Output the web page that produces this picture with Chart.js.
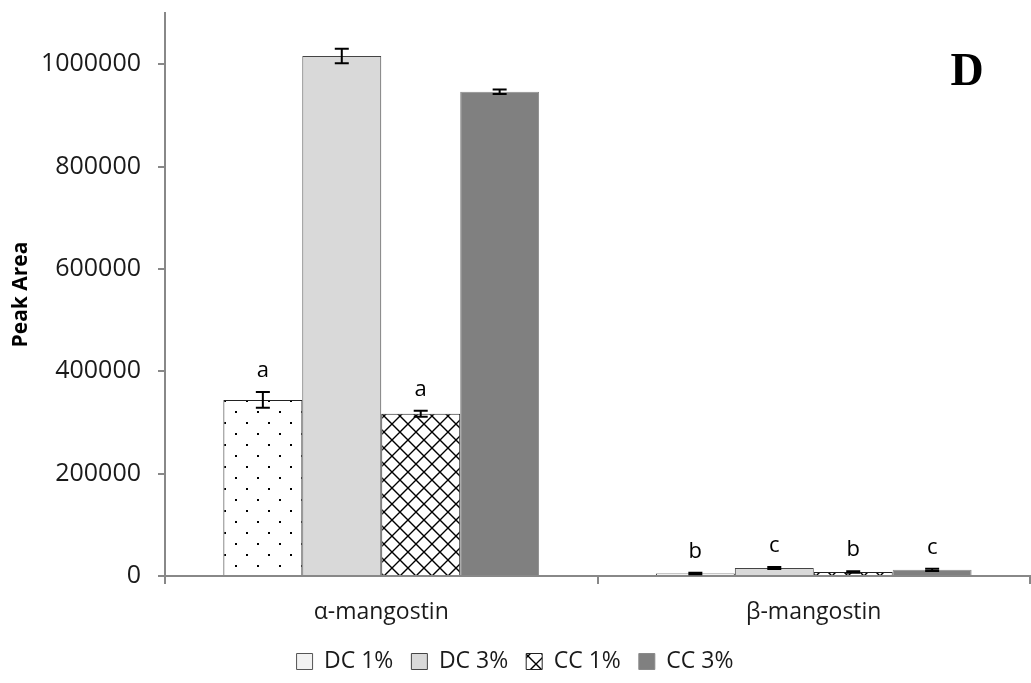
<!DOCTYPE html>
<html>
<head>
<meta charset="utf-8">
<script src="https://cdn.jsdelivr.net/npm/chart.js@4/dist/chart.umd.min.js"></script>
<style>
  html,body{margin:0;padding:0;background:#fff;}
  #wrap{width:1031px;height:683px;}
</style>
</head>
<body>
<div id="wrap"><canvas id="myChart" width="1031" height="683"></canvas></div>
<script>
// datos
const categories=['α-mangostin','β-mangostin'];
const seriesNames=['DC 1%','DC 3%','CC 1%','CC 3%'];
const dc1=[344000,5000];
const dc3=[1016000,15500];
const cc1=[317000,8000];
const cc3=[946000,12000];
const dc1Err=[15500,1500];
const dc3Err=[14000,2000];
const cc1Err=[6000,1500];
const cc3Err=[4500,2000];
// letras de significancia
const dc1Sig=['a','b'];
const dc3Sig=['','c'];
const cc1Sig=['a','b'];
const cc3Sig=['','c'];
const yTicks=[0,200000,400000,600000,800000,1000000];

// patrones
function dotPattern(){
    const c=document.createElement('canvas');
    c.width=22;c.height=22;
    const x=c.getContext('2d');
    x.fillStyle='#fff';x.fillRect(0,0,22,22);
    x.fillStyle='#000';
    x.fillRect(4,4,2,2);
    x.fillRect(15,15,2,2);
    return x.createPattern(c,'repeat');
}
function crossPattern(){
    const c=document.createElement('canvas');
    c.width=16;c.height=16;
    const x=c.getContext('2d');
    x.fillStyle='#fff';x.fillRect(0,0,16,16);
    x.strokeStyle='#000';x.lineWidth=1.4;
    x.beginPath();
    x.moveTo(-2,-2);x.lineTo(18,18);
    x.moveTo(18,-2);x.lineTo(-2,18);
    x.stroke();
    return x.createPattern(c,'repeat');
}

const FONT="'Open Sans', 'Liberation Sans', sans-serif";
Chart.defaults.font.family=FONT;
Chart.defaults.color='#1a1a1a';

const datasets=[
    {label:seriesNames[0],data:dc1,err:dc1Err,sig:dc1Sig,backgroundColor:dotPattern(),borderColor:'#222',borderWidth:1},
    {label:seriesNames[1],data:dc3,err:dc3Err,sig:dc3Sig,backgroundColor:'#d9d9d9',borderColor:'#444',borderWidth:1},
    {label:seriesNames[2],data:cc1,err:cc1Err,sig:cc1Sig,backgroundColor:crossPattern(),borderColor:'#222',borderWidth:1},
    {label:seriesNames[3],data:cc3,err:cc3Err,sig:cc3Sig,backgroundColor:'#808080',borderColor:'#8a8a8a',borderWidth:1}
];

// barras de error y letras
const errorBars={
    id:'errorBars',
    afterDatasetsDraw(chart){
        const ctx=chart.ctx;
        const y=chart.scales.y;
        ctx.save();
        chart.data.datasets.forEach((ds,i)=>{
            const meta=chart.getDatasetMeta(i);
            meta.data.forEach((bar,j)=>{
                const v=ds.data[j],e=ds.err[j];
                const top=y.getPixelForValue(v+e);
                const bot=y.getPixelForValue(v-e);
                ctx.strokeStyle='#000';
                ctx.lineWidth=2;
                ctx.beginPath();
                ctx.moveTo(bar.x,top);ctx.lineTo(bar.x,bot);
                ctx.moveTo(bar.x-7,top);ctx.lineTo(bar.x+7,top);
                ctx.moveTo(bar.x-7,bot);ctx.lineTo(bar.x+7,bot);
                ctx.stroke();
                if(ds.sig[j])
                {
                    ctx.fillStyle='#000';
                    ctx.font='22px '+FONT;
                    ctx.textAlign='center';
                    ctx.textBaseline='bottom';
                    ctx.fillText(ds.sig[j],bar.x,top-10);
                }
            });
        });
        // letra del panel
        const a=chart.chartArea;
        ctx.fillStyle='#000';
        ctx.font="bold 46px 'Liberation Serif', 'DejaVu Serif', serif";
        ctx.textAlign='center';
        ctx.textBaseline='middle';
        ctx.fillText('D',a.right-63,73);
        ctx.restore();
    }
};

// leyenda: caja blanca lisa para DC 1%
const legendLabels=(chart)=>{
    const items=Chart.defaults.plugins.legend.labels.generateLabels(chart);
    items[0].fillStyle='#f2f2f2';
    items[0].strokeStyle='#555';
    return items;
};

const config={
    type:'bar',
    data:{labels:categories,datasets:datasets},
    options:{
        responsive:false,
        animation:false,
        layout:{padding:{top:13,right:1,left:0,bottom:0}},
        datasets:{bar:{categoryPercentage:0.73,barPercentage:1}},
        plugins:{
            legend:{
                position:'bottom',
                labels:{
                    boxWidth:16,
                    boxHeight:16,
                    padding:18,
                    font:{size:23},
                    color:'#1a1a1a',
                    generateLabels:legendLabels
                }
            },
            tooltip:{enabled:false}
        },
        scales:{
            x:{
                grid:{display:true,drawOnChartArea:false,offset:true,tickLength:8,color:'#888',lineWidth:2},
                border:{color:'#888',width:2},
                ticks:{font:{size:23},color:'#1a1a1a',padding:15},
                afterFit:(s)=>{s.height=56;}
            },
            y:{
                min:0,
                max:1100000,
                afterBuildTicks:(s)=>{s.ticks=yTicks.map(v=>({value:v}));},
                grid:{display:true,drawOnChartArea:false,tickLength:7,color:'#888',lineWidth:2},
                border:{color:'#888',width:2},
                ticks:{font:{size:25},color:'#1a1a1a',padding:17,callback:(v)=>String(v)},
                title:{display:true,text:'Peak Area',font:{size:21,weight:'bold'},color:'#000',padding:{top:8,bottom:0}},
                afterFit:(s)=>{s.width=165;s.paddingTop=0;s.paddingBottom=0;}
            }
        }
    },
    plugins:[errorBars]
};

const chart=new Chart(document.getElementById('myChart'),config);
</script>
</body>
</html>
